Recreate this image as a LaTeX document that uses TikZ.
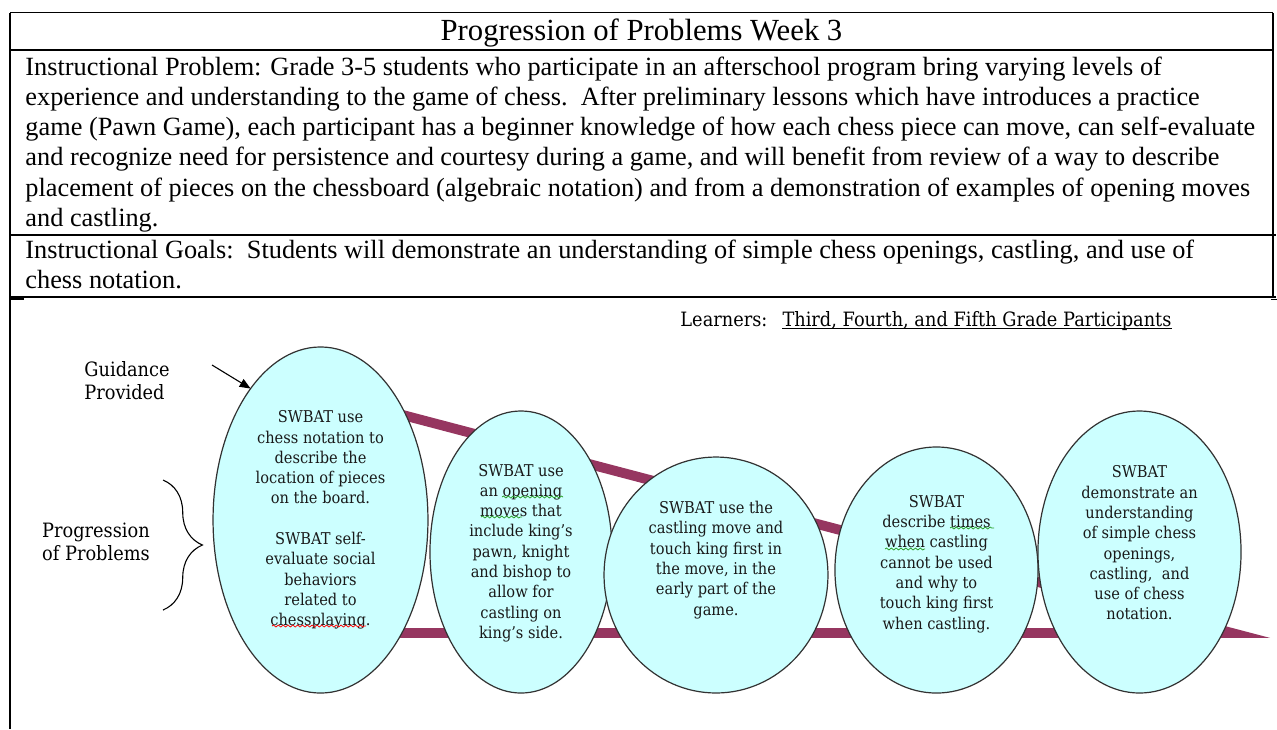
\documentclass[tikz,border=0pt]{standalone}
\usepackage{fontspec}
\setmainfont{Liberation Serif}
\newfontfamily\bubblefont[FakeStretch=0.9]{DejaVu Serif}
\usepackage{tikz}
\usetikzlibrary{shapes.geometric, arrows.meta, decorations.pathreplacing, decorations.pathmorphing}
\definecolor{wedgered}{RGB}{150,54,96}
\definecolor{bubblefill}{RGB}{204,255,255}
\definecolor{bubbleline}{RGB}{50,50,50}
\definecolor{spellgreen}{RGB}{40,160,40}
\tikzset{
  tableline/.style={line width=0.7pt, color=black},
  titletext/.style={anchor=base, inner sep=0pt, font=\fontsize{14}{16}\selectfont},
  bodyline/.style={anchor=base west, inner sep=0pt, font=\fontsize{12}{13.8}\selectfont},
  bubble/.style={ellipse, draw=bubbleline, fill=bubblefill, line width=0.55pt,
    inner sep=0pt, outer sep=0pt},
  swbat/.style={align=center, inner sep=0pt, text=black!90,
    font=\bubblefont\fontsize{7.4}{9.26}\selectfont},
  sidetext/.style={inner sep=0pt, font=\bubblefont\fontsize{9}{10.5}\selectfont},
  wedge/.style={line width=4.5pt, draw=wedgered, line join=miter},
  arrow/.style={-{Triangle[length=5pt, width=4pt]}, line width=0.5pt, color=black},
  bracket/.style={decorate, decoration={brace, amplitude=18pt}, line width=0.5pt},
  spellmark/.style={decorate, decoration={snake, amplitude=0.45pt, segment length=2.2pt},
    line width=0.35pt}
}
\begin{document}
\begin{tikzpicture}[x=0.456pt, y=-0.456pt]
  \useasboundingbox (0,0) rectangle (1277,729);

  % Table frame
  \draw[tableline] (10,12.7) -- (1273,12.7);
  \draw[tableline] (10,12.7) -- (10,729);
  \draw[tableline] (1273,12.7) -- (1273,297);
  \draw[tableline, line width=0.9pt] (10,50) -- (1273,50);
  \draw[tableline] (10,235) -- (1276,235);
  \draw[tableline] (10,297) -- (1276,297);
  \draw[tableline, line width=1pt] (10,298.5) -- (24,298.5);
  \draw[tableline] (1271,299.5) -- (1277,299.5);

  % Title and text rows
  \node[titletext] (title) at (641.5,40.5) {Progression of Problems Week 3};
  \node[bodyline] (prob1) at (25,75) {Instructional Problem: Grade 3-5 students who participate in an afterschool program bring varying levels of};
  \node[bodyline] (prob2) at (25,105.3) {experience and understanding to the game of chess.\ \ After preliminary lessons which have introduces a practice};
  \node[bodyline] (prob3) at (25,135.6) {game (Pawn Game), each participant has a beginner knowledge of how each chess piece can move, can self-evaluate};
  \node[bodyline] (prob4) at (25,165.9) {and recognize need for persistence and courtesy during a game, and will benefit from review of a way to describe};
  \node[bodyline] (prob5) at (25,196.2) {placement of pieces on the chessboard (algebraic notation) and from a demonstration of examples of opening moves};
  \node[bodyline] (prob6) at (25,226.5) {and castling.};
  \node[bodyline] (goal1) at (25,258) {Instructional Goals:\ \ Students will demonstrate an understanding of simple chess openings, castling, and use of};
  \node[bodyline] (goal2) at (25,288.5) {chess notation.};

  % Wedge behind the ellipses
  \coordinate (wtop) at (300,388);
  \coordinate (wtip) at (1232,633);
  \coordinate (wbot) at (300,633);
  \draw[wedge] (wtop) -- (wtip) -- (wbot);

  % Ellipses
  \node[bubble, minimum width=98pt, minimum height=157.8pt] (e1) at (320.5,520) {};
  \node[bubble, minimum width=83pt, minimum height=128.6pt] (e2) at (521,552) {};
  \node[bubble, minimum width=102.1pt, minimum height=107.6pt] (e3) at (716,575) {};
  \node[bubble, minimum width=92.6pt, minimum height=112.2pt] (e4) at (936.5,570) {};
  \node[bubble, minimum width=92.6pt, minimum height=128.6pt] (e5) at (1139.5,552) {};

  % Ellipse texts
  \node[swbat] (t1) at (320.5,520) {SWBAT use\\chess notation to\\describe the\\location of pieces\\on the board.\\~\\SWBAT self-\\evaluate social\\behaviors\\related to\\chessplaying.};
  \node[swbat] (t2) at (521,553) {SWBAT use\\an opening\\moves that\\include king’s\\pawn, knight\\and bishop to\\allow for\\castling on\\king’s side.};
  \node[swbat] (t3) at (716,560) {SWBAT use the\\castling move and\\touch king first in\\the move, in the\\early part of the\\game.};
  \node[swbat] (t4) at (936.5,564) {SWBAT\\describe times\\when castling\\cannot be used\\and why to\\touch king first\\when castling.};
  \node[swbat] (t5) at (1139.5,543) {SWBAT\\demonstrate an\\understanding\\of simple chess\\openings,\\castling,\ \ and\\use of chess\\notation.};

  % Spelling marks
  \draw[spellmark, red] (272,626) -- (366,626);
  \draw[spellmark, spellgreen] (502,497) -- (563,497);
  \draw[spellmark, spellgreen] (481,517) -- (522,517);
  \draw[spellmark, spellgreen] (950,528) -- (994,528);
  \draw[spellmark, spellgreen] (885,549) -- (925,549);

  % Side labels
  \node[sidetext, anchor=west, align=left] (guide) at (84,380.5) {Guidance\\Provided};
  \coordinate (gtail) at (212,365);
  \draw[arrow] (gtail) -- (e1.118);
  \node[sidetext, align=center] (prog) at (96,541.5) {Progression\\of Problems};
  \coordinate (btop) at (163,480);
  \coordinate (bbot) at (163,610);
  \draw[bracket] (btop) -- (bbot);

  % Learners line
  \node[sidetext, anchor=base west] (learn) at (680,326) {Learners:};
  \node[sidetext, anchor=base west] (grade) at ([xshift=6.5pt]learn.base east) {Third, Fourth, and Fifth Grade Participants};
  \draw[line width=0.5pt] ([yshift=-1.3pt]grade.base west) -- ([yshift=-1.3pt]grade.base east);
\end{tikzpicture}
\end{document}
